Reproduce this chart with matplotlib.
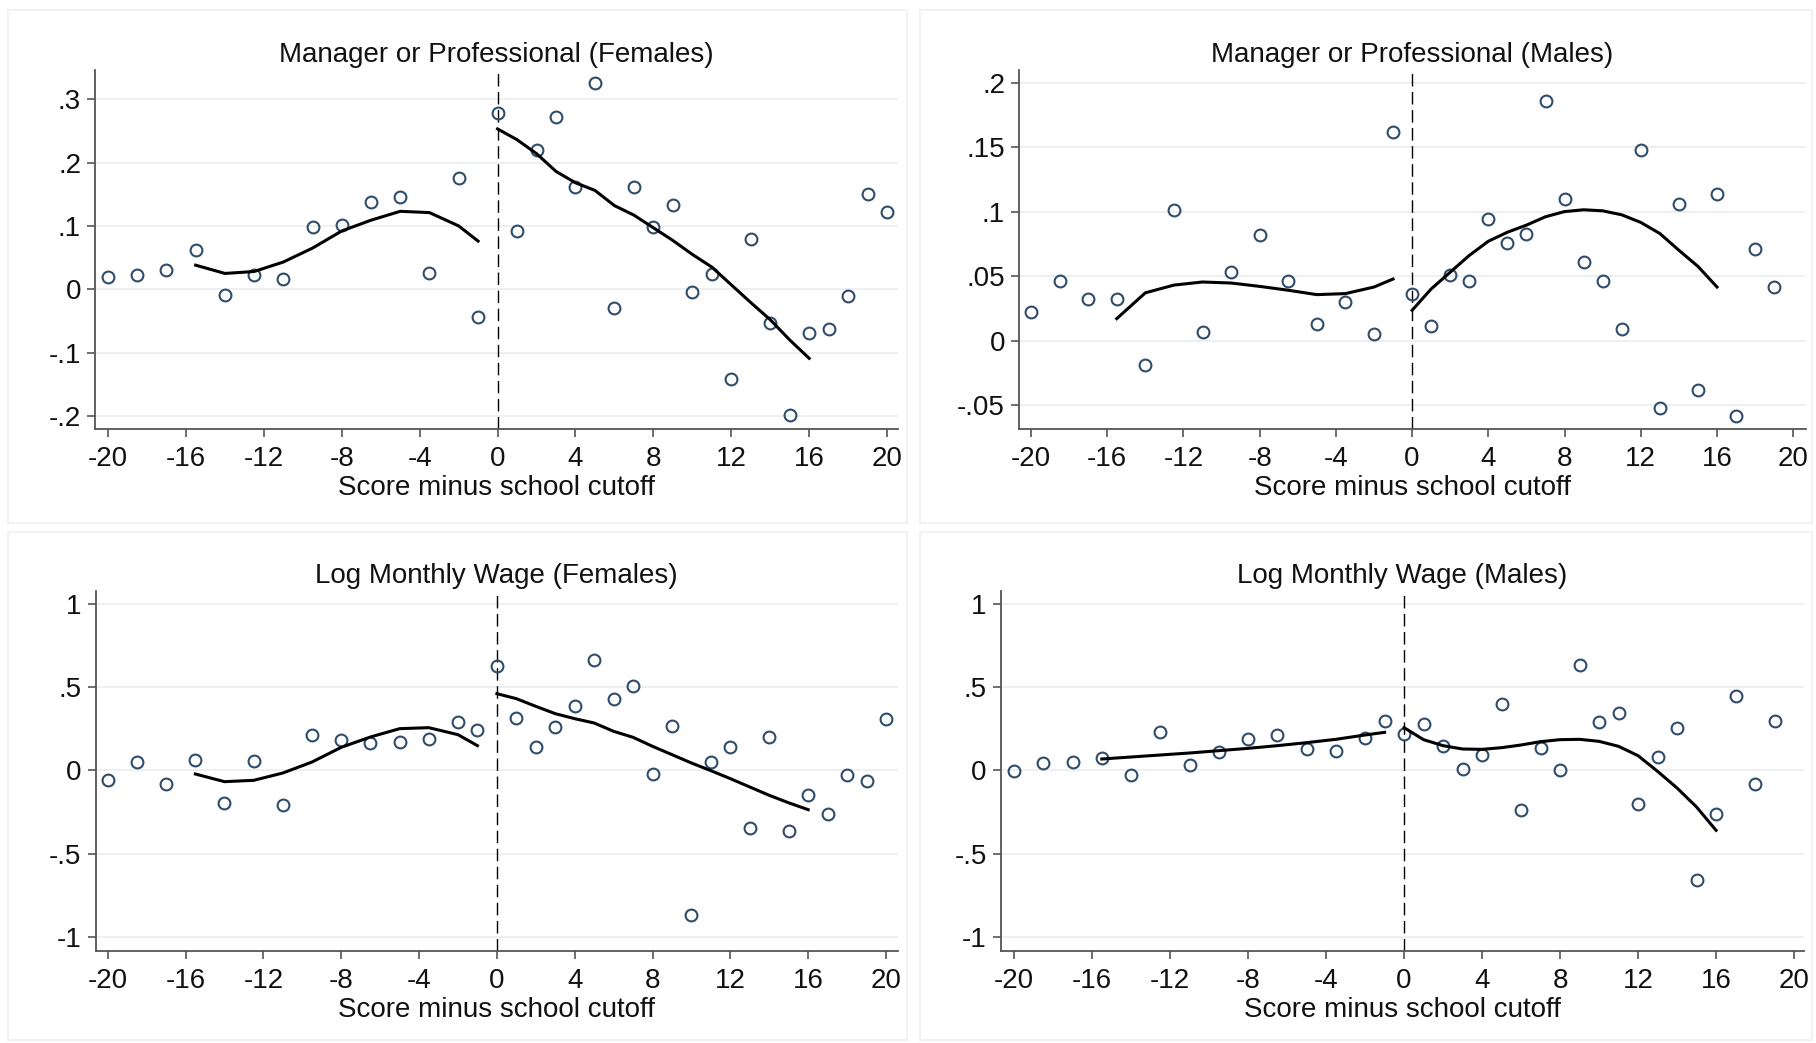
import matplotlib
matplotlib.use("Agg")
import matplotlib.pyplot as plt
from matplotlib.patches import Rectangle

plt.rcParams['font.family'] = ['Liberation Sans', 'DejaVu Sans']
plt.rcParams['axes.unicode_minus'] = False

# bin positions (score minus cutoff)
x_left = [-20, -18.5, -17, -15.5, -14, -12.5, -11, -9.5, -8, -6.5, -5, -3.5, -2, -1]
x_right = list(range(0, 21))
x_right_m = list(range(0, 20))
fit_left = [-15.5, -14, -12.5, -11, -9.5, -8, -6.5, -5, -3.5, -2, -1]
fit_right = list(range(0, 17))

# Manager or Professional (Females)
mf_pts_l = [0.019, 0.022, 0.030, 0.062, -0.009, 0.023, 0.016, 0.098, 0.102, 0.138, 0.146, 0.026, 0.175, -0.044]
mf_pts_r = [0.278, 0.092, 0.219, 0.272, 0.161, 0.326, -0.029, 0.161, 0.098, 0.133, -0.005,
            0.024, -0.142, 0.079, -0.054, -0.198, -0.069, -0.062, -0.010, 0.151, 0.122]
mf_fit_l = [0.038, 0.025, 0.028, 0.043, 0.065, 0.092, 0.109, 0.123, 0.121, 0.100, 0.076]
mf_fit_r = [0.253, 0.236, 0.214, 0.186, 0.168, 0.156, 0.132, 0.117, 0.097, 0.077, 0.055,
            0.035, 0.007, -0.021, -0.048, -0.080, -0.109]

# Manager or Professional (Males)
mm_pts_l = [0.022, 0.046, 0.032, 0.0325, -0.019, 0.101, 0.007, 0.053, 0.082, 0.046, 0.013, 0.030, 0.005, 0.1615]
mm_pts_r = [0.036, 0.011, 0.051, 0.046, 0.094, 0.076, 0.083, 0.186, 0.110, 0.061, 0.046,
            0.009, 0.148, -0.052, 0.1055, -0.038, 0.114, -0.0586, 0.071, 0.0415]
mm_fit_l = [0.017, 0.037, 0.043, 0.0454, 0.0446, 0.042, 0.039, 0.0356, 0.0364, 0.0415, 0.0477]
mm_fit_r = [0.0235, 0.040, 0.053, 0.066, 0.077, 0.084, 0.0895, 0.096, 0.100, 0.1014, 0.1006,
            0.0975, 0.0916, 0.083, 0.070, 0.0575, 0.0415]

# Log Monthly Wage (Females)
wf_pts_l = [-0.056, 0.05, -0.084, 0.064, -0.198, 0.054, -0.208, 0.214, 0.18, 0.164, 0.168, 0.188, 0.288, 0.244]
wf_pts_r = [0.626, 0.314, 0.138, 0.26, 0.388, 0.662, 0.43, 0.506, -0.02, 0.266, -0.866,
            0.05, 0.138, -0.344, 0.202, -0.364, -0.148, -0.262, -0.03, -0.066, 0.308]
wf_fit_l = [-0.022, -0.068, -0.06, -0.016, 0.05, 0.138, 0.2, 0.25, 0.256, 0.214, 0.148]
wf_fit_r = [0.46, 0.43, 0.384, 0.34, 0.31, 0.284, 0.234, 0.198, 0.144, 0.094, 0.044,
            -0.002, -0.05, -0.10, -0.15, -0.195, -0.236]

# Log Monthly Wage (Males)
wm_pts_l = [-0.004, 0.046, 0.052, 0.072, -0.026, 0.232, 0.034, 0.11, 0.186, 0.212, 0.128, 0.118, 0.194, 0.296]
wm_pts_r = [0.218, 0.278, 0.146, 0.01, 0.09, 0.40, -0.236, 0.136, 0.0, 0.632, 0.288,
            0.342, -0.204, 0.078, 0.256, -0.656, -0.264, 0.444, -0.082, 0.298]
wm_fit_l = [0.068, 0.08, 0.092, 0.104, 0.118, 0.132, 0.148, 0.166, 0.186, 0.212, 0.228]
wm_fit_r = [0.256, 0.184, 0.148, 0.128, 0.126, 0.136, 0.152, 0.172, 0.184, 0.186, 0.174,
            0.144, 0.088, -0.006, -0.106, -0.22, -0.36]

W, H = 1816, 1043
fig = plt.figure(figsize=(W / 100, H / 100), dpi=100)
fig.patch.set_facecolor('white')

# faint panel frames
for (l, t, r, b) in [(8, 10, 907, 523), (920, 10, 1812, 523),
                     (8, 532, 907, 1040), (920, 532, 1812, 1040)]:
    fig.patches.append(Rectangle((l / W, 1 - b / H), (r - l) / W, (b - t) / H,
                                 transform=fig.transFigure, fill=False,
                                 edgecolor='#f0f3f5', linewidth=1.5))


def stata_fmt(v):
    if abs(v) < 1e-9:
        return '0'
    s = ('%g' % v)
    s = s.replace('0.', '.')
    return s


def panel(box, title, xr, pl, pr, fl, fr, ylim, xlim, yticks):
    l, t, r, b = box
    ax = fig.add_axes([l / W, 1 - b / H, (r - l) / W, (b - t) / H])
    for v in yticks:
        ax.axhline(v, color='#eaeff1', linewidth=1.3, zorder=0)
    ax.axvline(0, color='black', linewidth=1.0, dashes=(9, 4), zorder=1)
    ax.plot(x_left, pl, 'o', mfc='none', mec='#2f4d6b', mew=1.5, ms=8.5, zorder=3)
    ax.plot(xr, pr, 'o', mfc='none', mec='#2f4d6b', mew=1.5, ms=8.5, zorder=3)
    ax.plot(fit_left, fl, color='black', linewidth=2.2, zorder=4)
    ax.plot(fit_right, fr, color='black', linewidth=2.2, zorder=4)
    ax.set_xlim(*xlim)
    ax.set_ylim(*ylim)
    ax.set_xticks(range(-20, 21, 4))
    ax.set_yticks(yticks)
    ax.set_yticklabels([stata_fmt(v) for v in yticks])
    ax.spines['top'].set_visible(False)
    ax.spines['right'].set_visible(False)
    for s in ('left', 'bottom'):
        ax.spines[s].set_color('#555555')
        ax.spines[s].set_linewidth(1.3)
    ax.tick_params(axis='both', direction='out', length=6, width=1.2, color='#555555',
                   labelsize=20, labelcolor='#111111', pad=4)
    ax.tick_params(axis='x', pad=6.5)
    ax.set_xlabel('Score minus school cutoff', fontsize=20, color='#111111', labelpad=2)
    ax.set_title(title, fontsize=20, color='#111111', pad=6)
    ax.set_facecolor('white')
    return ax


panel((95, 70, 898, 429), 'Manager or Professional (Females)', x_right,
      mf_pts_l, mf_pts_r, mf_fit_l, mf_fit_r, (-0.2205, 0.346), (-20.67, 20.56),
      [-0.2, -0.1, 0, 0.1, 0.2, 0.3])
panel((1019, 70, 1806, 429), 'Manager or Professional (Males)', x_right_m,
      mm_pts_l, mm_pts_r, mm_fit_l, mm_fit_r, (-0.0686, 0.2098), (-20.63, 20.67),
      [-0.05, 0, 0.05, 0.1, 0.15, 0.2])
panel((95.5, 591, 897.5, 951), 'Log Monthly Wage (Females)', x_right,
      wf_pts_l, wf_pts_r, wf_fit_l, wf_fit_r, (-1.084, 1.076), (-20.63, 20.59),
      [-1, -0.5, 0, 0.5, 1])
panel((1000.6, 591, 1804, 951), 'Log Monthly Wage (Males)', x_right_m,
      wm_pts_l, wm_pts_r, wm_fit_l, wm_fit_r, (-1.084, 1.076), (-20.69, 20.51),
      [-1, -0.5, 0, 0.5, 1])

fig.savefig('out.png', dpi=100, facecolor='white')
